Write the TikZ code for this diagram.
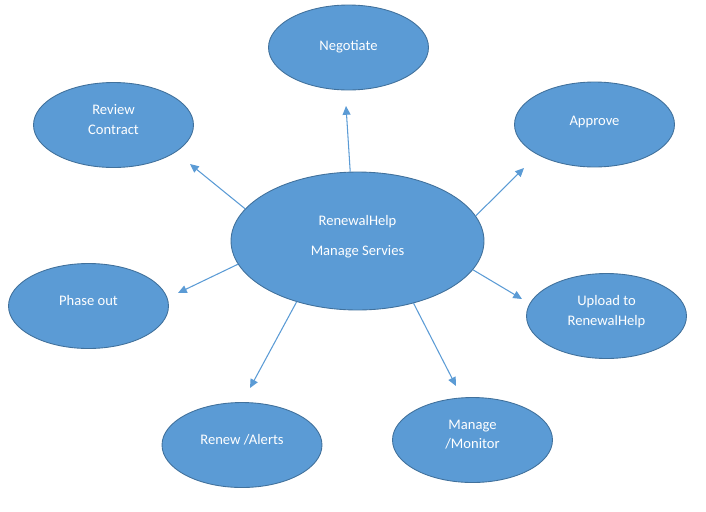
\documentclass[tikz,border=0pt]{standalone}
\usepackage{fontspec}
\setmainfont{Carlito}
\usepackage{tikz}
\usetikzlibrary{shapes.geometric,arrows.meta}
\definecolor{bubble}{HTML}{5B9BD5}
\definecolor{rim}{HTML}{41719C}

\begin{document}
\begin{tikzpicture}[x=0.02cm,y=-0.02cm,
  text drop/.store in=\textdrop, text drop=6.5pt,
  task/.style={ellipse,fill=bubble,draw=rim,line width=0.5pt,text=white,
    minimum width=3.2cm,minimum height=1.7cm,inner sep=0pt,align=center,
    font=\fontsize{8.3}{11.2}\selectfont,
    execute at begin node={\rule{0pt}{6pt}},
    execute at end node={\rule[-\textdrop]{0pt}{0pt}}},
  hub/.style={task,minimum width=5.06cm,minimum height=2.76cm},
  link/.style={draw=bubble,line width=0.6pt,-{Triangle[length=5pt,width=4.5pt]}}]
\useasboundingbox (0,0) rectangle (706,511);
\node [hub] (hub) at (357.5,241) {RenewalHelp\\[6pt]Manage Servies};
\node [task,text drop=3pt] (neg) at (348.5,47.5) {Negotiate};
\node [task] (rev) at (113.5,125) {Review\\Contract};
\node [task,text drop=5pt] (app) at (594.5,124.5) {Approve};
\node [task] (pha) at (88.5,306) {Phase out};
\node [task] (upl) at (606.5,316) {Upload to\\RenewalHelp};
\node [task] (ren) at (242,445) {Renew /Alerts};
\node [task] (man) at (472.5,440) {Manage\\/Monitor};
\coordinate (tneg) at (346,106);
\coordinate (trev) at (190,164);
\coordinate (tapp) at (524,168);
\coordinate (tpha) at (178,293);
\coordinate (tupl) at (522,299);
\coordinate (tren) at (250,388);
\coordinate (tman) at (456,386);
\draw [link] (hub.96) -- (tneg);
\draw [link] (hub.164) -- (trev);
\draw [link] (hub.12.5) -- (tapp);
\draw [link] (hub.191.8) -- (tpha);
\draw [link] (hub.346) -- (tupl);
\draw [link] (hub.225) -- (tren);
\draw [link] (hub.312) -- (tman);
\end{tikzpicture}
\end{document}
